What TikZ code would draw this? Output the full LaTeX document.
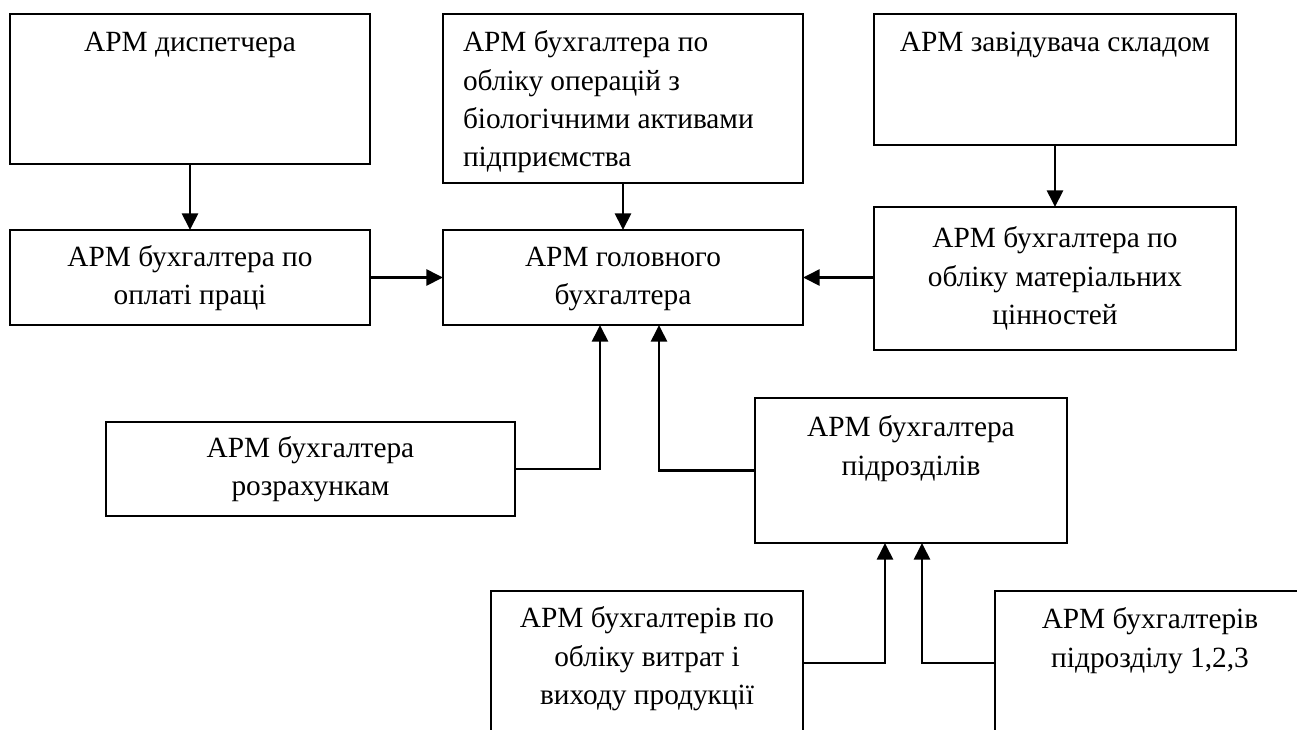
\documentclass[tikz,border=0pt]{standalone}
\usepackage{fontspec}
\setmainfont{Liberation Serif}
\usetikzlibrary{arrows.meta}
\newcommand\diafs{\fontsize{22}{28.7}\selectfont}
\begin{document}
\begin{tikzpicture}[x=0.75pt,y=-0.75pt,
  box/.style={draw, line width=1.5pt, inner sep=0pt, outer sep=0pt, anchor=north west, align=center, font=\diafs},
  txt/.style={inner sep=0pt, outer sep=0pt, anchor=north, align=center, font=\diafs},
  arr/.style={line width=2pt, -{Triangle[length=12.5pt,width=12pt]}}]
\useasboundingbox (0,0) rectangle (1297,729);
\clip (0,0) rectangle (1297,729);
% boxes
\node[box, minimum width=270pt, minimum height=112.5pt] (disp) at (10,14) {};
\node[box, minimum width=270pt, minimum height=71.25pt] (opl) at (10,230) {\strut АРМ бухгалтера по\\оплаті праці\strut};
\node[box, minimum width=270pt, minimum height=126.75pt] (bio) at (443,14) {};
\node[box, minimum width=270pt, minimum height=71.25pt] (main) at (443,230) {\strut АРМ головного\\бухгалтера\strut};
\node[box, minimum width=271.5pt, minimum height=98.25pt] (zav) at (874,14) {};
\node[box, minimum width=271.5pt, minimum height=107.25pt] (mat) at (874,207) {\strut АРМ бухгалтера по\\обліку матеріальних\\цінностей\strut};
\node[box, minimum width=306.75pt, minimum height=70.5pt] (roz) at (106,422) {\strut АРМ бухгалтера\\розрахункам\strut};
\node[box, minimum width=234pt, minimum height=108.75pt] (pidr) at (755,398) {};
\node[box, minimum width=234pt, minimum height=108pt] (bl) at (491,591) {};
\node[box, minimum width=232.5pt, minimum height=108pt] (br) at (995,591) {};
% top-aligned texts
\node[txt] (tdisp) at (190,25.2) {\strut АРМ диспетчера};
\node[txt, anchor=north west, align=left] (tbio) at (463,25.2) {\strut АРМ бухгалтера по\\обліку операцій з\\біологічними активами\\підприємства};
\node[txt] (tzav) at (1055,25.2) {\strut АРМ завідувача складом};
\node[txt] (tpidr) at (911,410.2) {\strut АРМ бухгалтера\\підрозділів};
\node[txt] (tbl) at (647,601.2) {\strut АРМ бухгалтерів по\\обліку витрат і\\виходу продукції};
\node[txt] (tbr) at (1150,602.2) {\strut АРМ бухгалтерів\\підрозділу 1,2,3};
% junction points
\coordinate (m1) at (600,325);
\coordinate (m2) at (659,325);
\coordinate (p1) at (885,543);
\coordinate (p2) at (922,543);
% connectors
\draw[arr] (disp.south) -- (opl.north);
\draw[arr] (opl.east) -- (main.west);
\draw[arr] (bio.south) -- (main.north);
\draw[arr] (zav.south) -- (mat.north);
\draw[arr] (mat.west |- main.east) -- (main.east);
\draw[arr] (roz.east) -| (m1);
\draw[arr] (pidr.west) -| (m2);
\draw[arr] (bl.east) -| (p1);
\draw[arr] (br.west) -| (p2);
\end{tikzpicture}
\end{document}
